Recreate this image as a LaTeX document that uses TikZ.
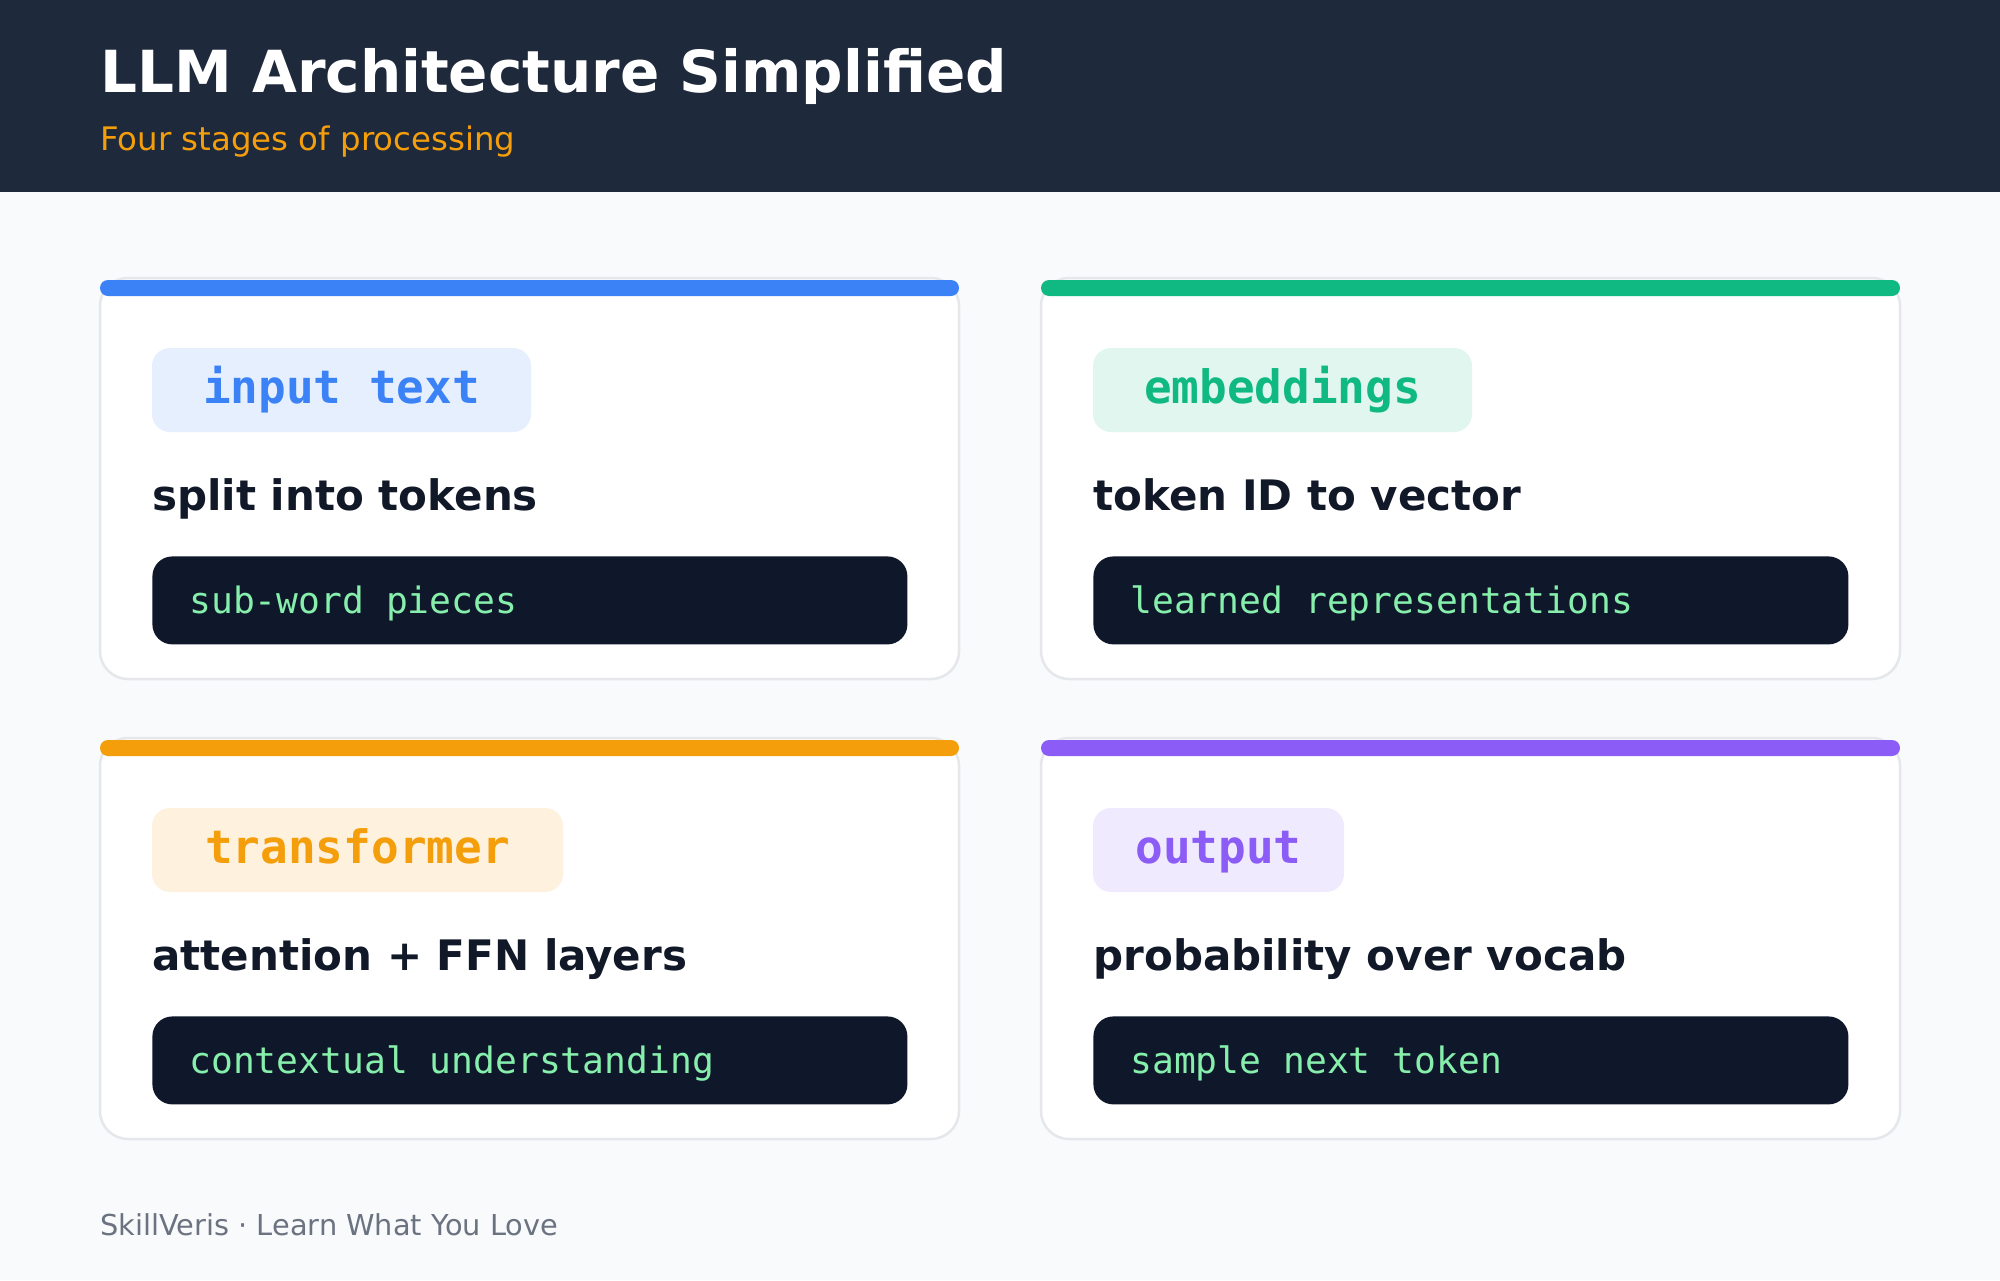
\documentclass[tikz,border=0pt]{standalone}
\usepackage{fontspec}
\setmainfont{DejaVu Sans}
\newfontfamily\codefont{DejaVu Sans Mono}

\definecolor{headbg}{HTML}{1E293B}
\definecolor{pagebg}{HTML}{F8FAFC}
\definecolor{subamber}{HTML}{F59E0B}
\definecolor{cardline}{HTML}{E5E7EB}
\definecolor{ink}{HTML}{111827}
\definecolor{codebg}{HTML}{0F172A}
\definecolor{codefg}{HTML}{86EFAC}
\definecolor{footgray}{HTML}{6B7280}
\definecolor{stageblue}{HTML}{3B82F6}
\definecolor{stagegreen}{HTML}{10B981}
\definecolor{stageorange}{HTML}{F59E0B}
\definecolor{stagepurple}{HTML}{8B5CF6}

\tikzset{
  cardbox/.style={fill=white, draw=cardline, line width=1.25pt, rounded corners=14pt},
  cardbar/.style={fill=#1, rounded corners=4pt},
  stagetag/.style={fill=#1!13, text=#1, rounded corners=9pt, inner sep=0pt,
    minimum height=42pt, text height=16pt, text depth=3pt,
    font=\codefont\bfseries\fontsize{23pt}{27pt}\selectfont},
  heading/.style={anchor=base west, inner sep=0pt, text=ink,
    font=\bfseries\fontsize{21pt}{25pt}\selectfont},
  codebox/.style={anchor=north west, fill=codebg, text=codefg, rounded corners=10pt,
    inner xsep=18.5pt, inner ysep=0pt, text width=340.5pt, align=flush left,
    minimum height=44pt, text height=16pt, text depth=3pt,
    font=\codefont\fontsize{18.15pt}{22pt}\selectfont}
}

\begin{document}
\begin{tikzpicture}[x=0.5pt, y=-0.5pt]

\useasboundingbox (0,0) rectangle (2000,1280);
\fill[pagebg] (0,0) rectangle (2000,1280);

% header
\fill[headbg] (0,0) rectangle (2000,192);
\node[anchor=base west, inner sep=0pt, text=white,
  font=\bfseries\fontsize{29pt}{34pt}\selectfont] (title) at (100,92) {LLM Architecture Simplified};
\node[anchor=base west, inner sep=0pt, text=subamber,
  font=\fontsize{16.2pt}{19pt}\selectfont] (subtitle) at (100,150) {Four stages of processing};

% stage 1
\begin{scope}[shift={(100,278)}]
\draw[cardbox] (0,0) rectangle (859,401);
\fill[cardbar=stageblue] (0,2) rectangle (859,18);
\node[stagetag=stageblue, minimum width=189.5pt] (tag1) at (241.5,112) {input text};
\node[heading] (head1) at (52,232) {split into tokens};
\node[codebox] (code1) at (52,278) {sub-word pieces};
\end{scope}

% stage 2
\begin{scope}[shift={(1041,278)}]
\draw[cardbox] (0,0) rectangle (859,401);
\fill[cardbar=stagegreen] (0,2) rectangle (859,18);
\node[stagetag=stagegreen, minimum width=189.5pt] (tag2) at (241.5,112) {embeddings};
\node[heading] (head2) at (52,232) {token ID to vector};
\node[codebox] (code2) at (52,278) {learned representations};
\end{scope}

% stage 3
\begin{scope}[shift={(100,738)}]
\draw[cardbox] (0,0) rectangle (859,401);
\fill[cardbar=stageorange] (0,2) rectangle (859,18);
\node[stagetag=stageorange, minimum width=205.5pt] (tag3) at (257.5,112) {transformer};
\node[heading] (head3) at (52,232) {attention + FFN layers};
\node[codebox] (code3) at (52,278) {contextual understanding};
\end{scope}

% stage 4
\begin{scope}[shift={(1041,738)}]
\draw[cardbox] (0,0) rectangle (859,401);
\fill[cardbar=stagepurple] (0,2) rectangle (859,18);
\node[stagetag=stagepurple, minimum width=125.5pt] (tag4) at (177.5,112) {output};
\node[heading] (head4) at (52,232) {probability over vocab};
\node[codebox] (code4) at (52,278) {sample next token};
\end{scope}

% footer
\node[anchor=base west, inner sep=0pt, text=footgray,
  font=\fontsize{14.4pt}{17pt}\selectfont] (footer) at (100,1235) {SkillVeris · Learn What You Love};

\end{tikzpicture}
\end{document}
